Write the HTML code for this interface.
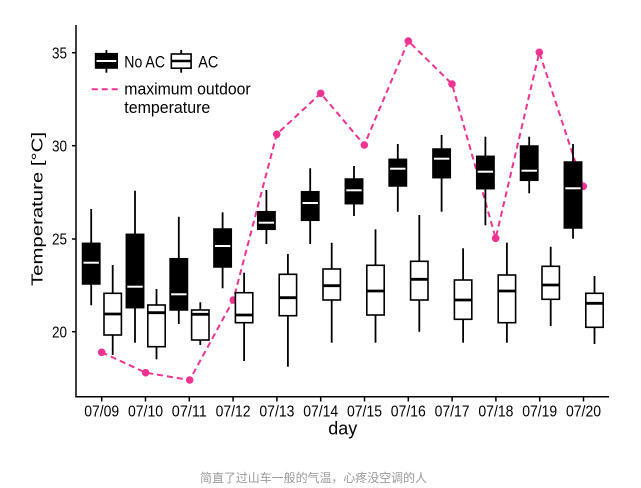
<!DOCTYPE html>
<html>
<head>
<meta charset="utf-8">
<style>
  html, body { margin:0; padding:0; background:#ffffff; }
  svg { display:block; }
  text { font-family: "Liberation Sans", Arial, sans-serif; fill:#000; }
</style>
</head>
<body>
<svg width="641" height="488" viewBox="0 0 641 488" xmlns="http://www.w3.org/2000/svg">
  <rect x="0" y="0" width="641" height="488" fill="#ffffff"/>

  <!-- outdoor temperature dashed line (drawn beneath boxes) -->
  <polyline fill="none" stroke="#ef3391" stroke-width="2" stroke-dasharray="6 4"
    points="101.7,352.3 145.7,372.7 189.7,380 233.3,300 276.7,134.3 320.7,93.3 364.3,145 408.3,41 452,84 495.7,238.3 539.3,52.3 583.3,186.3"/>
  <g fill="#ef3391">
    <circle cx="101.7" cy="352.3" r="3.8"/>
    <circle cx="145.7" cy="372.7" r="3.8"/>
    <circle cx="189.7" cy="380" r="3.8"/>
    <circle cx="233.3" cy="300" r="3.8"/>
    <circle cx="276.7" cy="134.3" r="3.8"/>
    <circle cx="320.7" cy="93.3" r="3.8"/>
    <circle cx="364.3" cy="145" r="3.8"/>
    <circle cx="408.3" cy="41" r="3.8"/>
    <circle cx="452" cy="84" r="3.8"/>
    <circle cx="495.7" cy="238.3" r="3.8"/>
    <circle cx="539.3" cy="52.3" r="3.8"/>
    <circle cx="583.3" cy="186.3" r="3.8"/>
  </g>

  <!-- No AC boxes (black) -->
  <g stroke="#000" stroke-width="1.8">
    <!-- whiskers -->
    <line x1="91.2" y1="209" x2="91.2" y2="305.3"/>
    <line x1="135" y1="190.7" x2="135" y2="342.7"/>
    <line x1="178.8" y1="216.7" x2="178.8" y2="324"/>
    <line x1="222.6" y1="212.3" x2="222.6" y2="288.3"/>
    <line x1="266.4" y1="190" x2="266.4" y2="244"/>
    <line x1="310.2" y1="168.3" x2="310.2" y2="244"/>
    <line x1="354" y1="166" x2="354" y2="216"/>
    <line x1="397.8" y1="144" x2="397.8" y2="211.7"/>
    <line x1="441.6" y1="135" x2="441.6" y2="211.7"/>
    <line x1="485.4" y1="136.7" x2="485.4" y2="225.3"/>
    <line x1="529.2" y1="136.7" x2="529.2" y2="193.3"/>
    <line x1="573" y1="144" x2="573" y2="238.7"/>
  </g>
  <g fill="#000" stroke="#000" stroke-width="1.5">
    <rect x="82.5" y="243.3" width="17.4" height="40.7"/>
    <rect x="126.3" y="234.3" width="17.4" height="73.4"/>
    <rect x="170.1" y="258.7" width="17.4" height="51.3"/>
    <rect x="213.9" y="229" width="17.4" height="38"/>
    <rect x="257.7" y="211.7" width="17.4" height="17.6"/>
    <rect x="301.5" y="191.7" width="17.4" height="28.6"/>
    <rect x="345.3" y="179" width="17.4" height="24.7"/>
    <rect x="389.1" y="159.3" width="17.4" height="26.7"/>
    <rect x="432.9" y="149" width="17.4" height="28.7"/>
    <rect x="476.7" y="156.3" width="17.4" height="32.4"/>
    <rect x="520.5" y="146" width="17.4" height="34.3"/>
    <rect x="564.3" y="162" width="17.4" height="66"/>
  </g>
  <g stroke="#ffffff" stroke-width="2">
    <line x1="83.5" y1="262.7" x2="98.9" y2="262.7"/>
    <line x1="127.3" y1="286.7" x2="142.7" y2="286.7"/>
    <line x1="171.1" y1="294.3" x2="186.5" y2="294.3"/>
    <line x1="214.9" y1="246" x2="230.3" y2="246"/>
    <line x1="258.7" y1="222.7" x2="274.1" y2="222.7"/>
    <line x1="302.5" y1="203" x2="317.9" y2="203"/>
    <line x1="346.3" y1="190.3" x2="361.7" y2="190.3"/>
    <line x1="390.1" y1="168.7" x2="405.5" y2="168.7"/>
    <line x1="433.9" y1="158.7" x2="449.3" y2="158.7"/>
    <line x1="477.7" y1="171.7" x2="493.1" y2="171.7"/>
    <line x1="521.5" y1="170.7" x2="536.9" y2="170.7"/>
    <line x1="565.3" y1="188.3" x2="580.7" y2="188.3"/>
  </g>

  <!-- AC boxes (white) -->
  <g stroke="#000" stroke-width="1.8">
    <line x1="112.7" y1="265" x2="112.7" y2="355"/>
    <line x1="156.5" y1="289" x2="156.5" y2="359.3"/>
    <line x1="200.3" y1="302.3" x2="200.3" y2="345"/>
    <line x1="244.1" y1="272.7" x2="244.1" y2="361"/>
    <line x1="287.9" y1="254" x2="287.9" y2="366.7"/>
    <line x1="331.7" y1="242.7" x2="331.7" y2="342.7"/>
    <line x1="375.5" y1="229.3" x2="375.5" y2="342.7"/>
    <line x1="419.3" y1="215" x2="419.3" y2="331.7"/>
    <line x1="463.1" y1="248.3" x2="463.1" y2="342.7"/>
    <line x1="506.9" y1="242.7" x2="506.9" y2="342.7"/>
    <line x1="550.7" y1="246.7" x2="550.7" y2="326"/>
    <line x1="594.5" y1="276" x2="594.5" y2="344"/>
  </g>
  <g fill="#ffffff" stroke="#000" stroke-width="1.6">
    <rect x="104" y="293.3" width="17.4" height="41.7"/>
    <rect x="147.8" y="305" width="17.4" height="41.7"/>
    <rect x="191.6" y="310" width="17.4" height="30"/>
    <rect x="235.4" y="292.7" width="17.4" height="30"/>
    <rect x="279.2" y="274.3" width="17.4" height="41.4"/>
    <rect x="323" y="269" width="17.4" height="31"/>
    <rect x="366.8" y="265.3" width="17.4" height="49.7"/>
    <rect x="410.6" y="261.3" width="17.4" height="38.7"/>
    <rect x="454.4" y="280" width="17.4" height="39.3"/>
    <rect x="498.2" y="275" width="17.4" height="47.7"/>
    <rect x="542" y="266.3" width="17.4" height="33"/>
    <rect x="585.8" y="293.3" width="17.4" height="34"/>
  </g>
  <g stroke="#000" stroke-width="2.8">
    <line x1="104" y1="314" x2="121.4" y2="314"/>
    <line x1="147.8" y1="312.7" x2="165.2" y2="312.7"/>
    <line x1="191.6" y1="314.3" x2="209" y2="314.3"/>
    <line x1="235.4" y1="315" x2="252.8" y2="315"/>
    <line x1="279.2" y1="297.7" x2="296.6" y2="297.7"/>
    <line x1="323" y1="285.7" x2="340.4" y2="285.7"/>
    <line x1="366.8" y1="291" x2="384.2" y2="291"/>
    <line x1="410.6" y1="279.3" x2="428" y2="279.3"/>
    <line x1="454.4" y1="300" x2="471.8" y2="300"/>
    <line x1="498.2" y1="291" x2="515.6" y2="291"/>
    <line x1="542" y1="285" x2="559.4" y2="285"/>
    <line x1="585.8" y1="303.3" x2="603.2" y2="303.3"/>
  </g>

  <!-- axes -->
  <g stroke="#000" stroke-width="1.5" fill="none">
    <line x1="76" y1="25" x2="76" y2="397.4"/>
    <line x1="75.3" y1="396.7" x2="609" y2="396.7"/>
    <!-- y ticks -->
    <line x1="72" y1="52.7" x2="76" y2="52.7"/>
    <line x1="72" y1="145.7" x2="76" y2="145.7"/>
    <line x1="72" y1="239" x2="76" y2="239"/>
    <line x1="72" y1="331.7" x2="76" y2="331.7"/>
    <!-- x ticks -->
    <line x1="101.7" y1="396.7" x2="101.7" y2="401.5"/>
    <line x1="145.5" y1="396.7" x2="145.5" y2="401.5"/>
    <line x1="189.3" y1="396.7" x2="189.3" y2="401.5"/>
    <line x1="233.1" y1="396.7" x2="233.1" y2="401.5"/>
    <line x1="276.9" y1="396.7" x2="276.9" y2="401.5"/>
    <line x1="320.7" y1="396.7" x2="320.7" y2="401.5"/>
    <line x1="364.5" y1="396.7" x2="364.5" y2="401.5"/>
    <line x1="408.3" y1="396.7" x2="408.3" y2="401.5"/>
    <line x1="452.1" y1="396.7" x2="452.1" y2="401.5"/>
    <line x1="495.9" y1="396.7" x2="495.9" y2="401.5"/>
    <line x1="539.7" y1="396.7" x2="539.7" y2="401.5"/>
    <line x1="583.5" y1="396.7" x2="583.5" y2="401.5"/>
  </g>

  <!-- y tick labels -->
  <g font-size="15.5" text-anchor="end">
    <text x="67" y="58.4" textLength="15" lengthAdjust="spacingAndGlyphs">35</text>
    <text x="67" y="151.4" textLength="15" lengthAdjust="spacingAndGlyphs">30</text>
    <text x="67" y="244.7" textLength="15" lengthAdjust="spacingAndGlyphs">25</text>
    <text x="67" y="337.4" textLength="15" lengthAdjust="spacingAndGlyphs">20</text>
  </g>

  <!-- x tick labels -->
  <g font-size="15.5">
    <text x="84.2" y="416.6" textLength="35" lengthAdjust="spacingAndGlyphs">07/09</text>
    <text x="128" y="416.6" textLength="35" lengthAdjust="spacingAndGlyphs">07/10</text>
    <text x="171.8" y="416.6" textLength="35" lengthAdjust="spacingAndGlyphs">07/11</text>
    <text x="215.6" y="416.6" textLength="35" lengthAdjust="spacingAndGlyphs">07/12</text>
    <text x="259.4" y="416.6" textLength="35" lengthAdjust="spacingAndGlyphs">07/13</text>
    <text x="303.2" y="416.6" textLength="35" lengthAdjust="spacingAndGlyphs">07/14</text>
    <text x="347" y="416.6" textLength="35" lengthAdjust="spacingAndGlyphs">07/15</text>
    <text x="390.8" y="416.6" textLength="35" lengthAdjust="spacingAndGlyphs">07/16</text>
    <text x="434.6" y="416.6" textLength="35" lengthAdjust="spacingAndGlyphs">07/17</text>
    <text x="478.4" y="416.6" textLength="35" lengthAdjust="spacingAndGlyphs">07/18</text>
    <text x="522.2" y="416.6" textLength="35" lengthAdjust="spacingAndGlyphs">07/19</text>
    <text x="566" y="416.6" textLength="35" lengthAdjust="spacingAndGlyphs">07/20</text>
  </g>

  <!-- axis titles -->
  <text x="328.3" y="434.5" font-size="18" textLength="29" lengthAdjust="spacingAndGlyphs">day</text>
  <text transform="translate(42.5,286) rotate(-90)" x="0" y="0" font-size="15.5" textLength="154" lengthAdjust="spacingAndGlyphs">Temperature [°C]</text>

  <!-- legend -->
  <line x1="106.4" y1="50" x2="106.4" y2="72.7" stroke="#000" stroke-width="1.8"/>
  <rect x="95.5" y="53.6" width="21.8" height="14.5" fill="#000" stroke="#000" stroke-width="1.4"/>
  <line x1="96.5" y1="61" x2="116.3" y2="61" stroke="#fff" stroke-width="2"/>
  <text x="124.3" y="67.3" font-size="16.5" textLength="40.7" lengthAdjust="spacingAndGlyphs">No AC</text>

  <line x1="181.2" y1="50" x2="181.2" y2="72.7" stroke="#000" stroke-width="1.8"/>
  <rect x="171.3" y="54" width="19.8" height="14.2" fill="#fff" stroke="#000" stroke-width="1.6"/>
  <line x1="171.3" y1="61" x2="191.1" y2="61" stroke="#000" stroke-width="2.4"/>
  <text x="198.3" y="67.3" font-size="16.5" textLength="20" lengthAdjust="spacingAndGlyphs">AC</text>

  <line x1="91.7" y1="89.3" x2="117.7" y2="89.3" stroke="#ef3391" stroke-width="2" stroke-dasharray="6 4"/>
  <text x="124.3" y="94.3" font-size="16.5" textLength="126.4" lengthAdjust="spacingAndGlyphs">maximum outdoor</text>
  <text x="124.3" y="112.8" font-size="16.5" textLength="86" lengthAdjust="spacingAndGlyphs">temperature</text>

  <!-- caption -->
  <text x="200" y="482" font-size="12" fill="#9a9a9a" style="fill:#9a9a9a;font-family:'Liberation Sans','Noto Sans CJK SC',sans-serif;" textLength="227" lengthAdjust="spacingAndGlyphs">简直了过山车一般的气温，心疼没空调的人</text>
</svg>
</body>
</html>
